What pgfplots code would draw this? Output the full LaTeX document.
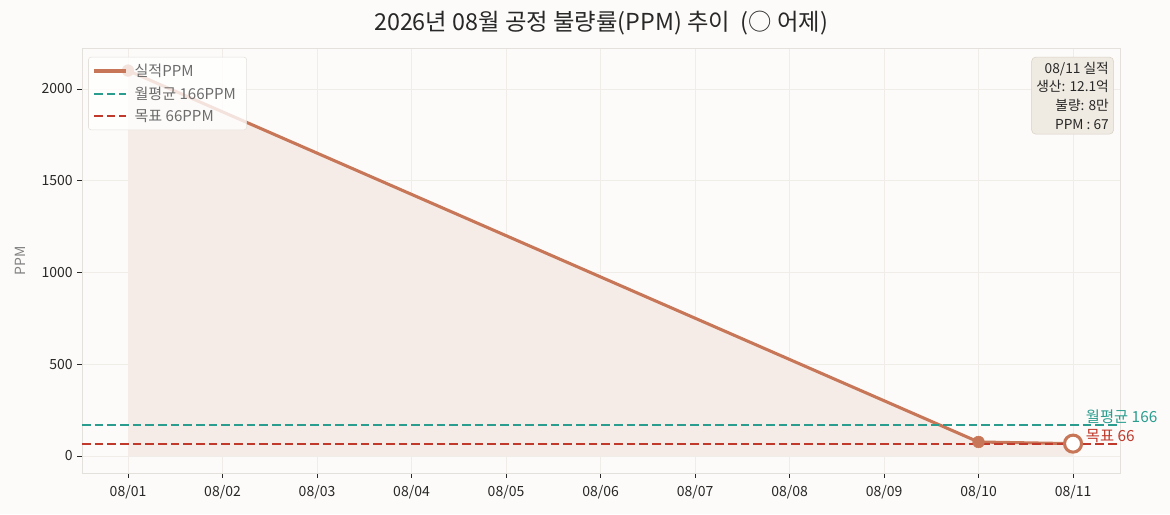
\documentclass[border=0pt]{standalone}
\usepackage{pgfplots}
\pgfplotsset{compat=1.18}
\usepackage{fontspec}
\setmainfont{Noto Sans CJK KR}
\definecolor{bgc}{RGB}{252,251,249}
\definecolor{linec}{RGB}{200,118,88}
\definecolor{fillc}{RGB}{246,236,231}
\definecolor{tealc}{RGB}{42,157,143}
\definecolor{redc}{RGB}{192,57,43}
\definecolor{gridc}{RGB}{240,237,233}
\definecolor{framec}{RGB}{228,224,219}
\definecolor{boxf}{RGB}{240,235,226}
\definecolor{boxd}{RGB}{216,208,196}
\definecolor{txtc}{RGB}{40,40,40}
\begin{document}
\begin{tikzpicture}
\path[fill=bgc] (0pt,0pt) rectangle (877.5pt,385.5pt);
\node[font=\fontsize{17.5}{20}\selectfont, text=txtc] at (450.75pt,368.5pt) {2026년 08월 공정 불량률(PPM) 추이\ \ (○ 어제)};
\begin{axis}[
  at={(61.5pt,30.75pt)}, anchor=south west,
  scale only axis, width=778.5pt, height=318.75pt,
  xmin=-0.487, xmax=10.497, ymin=-93, ymax=2223,
  xtick={0,1,2,3,4,5,6,7,8,9,10},
  xticklabels={08/01,08/02,08/03,08/04,08/05,08/06,08/07,08/08,08/09,08/10,08/11},
  ytick={0,500,1000,1500,2000},
  /pgf/number format/assume math mode=true,
  /pgf/number format/1000 sep={},
  tick label style={font=\fontsize{10.5}{12}\selectfont, text=txtc},
  xticklabel style={yshift=-2pt},
  grid=major, major grid style={gridc, line width=0.5pt},
  axis line style={framec, line width=0.6pt},
  tick style={txtc, line width=0.6pt},
  tick align=outside, major tick length=3.5pt,
  xtick pos=bottom, ytick pos=left,
  ylabel={PPM}, ylabel style={font=\fontsize{10.5}{12}\selectfont, text=gray, at={(axis description cs:-0.05,0.5)}},
  clip=false,
  legend cell align=left,
  legend style={at={(0.006,0.979)}, anchor=north west, fill=white, fill opacity=0.8, text opacity=1, draw=framec, rounded corners=2pt, font=\fontsize{11.3}{13}\selectfont, text=gray!85!black, row sep=2.2pt, inner xsep=3pt, inner ysep=3pt, nodes={inner xsep=5pt}},
]
\addplot[draw=none, fill=fillc, forget plot] coordinates {(0,2100) (9,76) (10,67) (10,0) (0,0)};
\addplot[color=linec, line width=2.3pt, line join=round, no marks, legend image code/.code={\draw[draw=linec, draw opacity=1, line width=2.4pt] (0cm,0cm) -- (0.85cm,0cm);}] coordinates {(0,2100) (9,76) (10,67)};
\addlegendentry{실적PPM}
\addplot[color=tealc, line width=1.5pt, dash pattern=on 6.5pt off 3pt, no marks, legend image code/.code={\draw[tealc, line width=1.5pt, dash pattern=on 6.5pt off 3pt] (0cm,0cm) -- (0.85cm,0cm);}] coordinates {(-0.487,166) (10.497,166)};
\addlegendentry{월평균 166PPM}
\addplot[color=redc, line width=1.5pt, dash pattern=on 6.5pt off 3pt, no marks, legend image code/.code={\draw[redc, line width=1.5pt, dash pattern=on 6.5pt off 3pt] (0cm,0cm) -- (0.85cm,0cm);}] coordinates {(-0.487,66) (10.497,66)};
\addlegendentry{목표 66PPM}
\addplot[only marks, mark=*, mark size=4.4pt, color=linec, mark options={solid, fill=linec, draw=linec}, forget plot] coordinates {(0,2100) (9,76)};
\addplot[only marks, mark=*, mark size=6.4pt, color=linec, mark options={solid, fill=white, draw=linec, line width=2.3pt}, forget plot] coordinates {(10,67)};
\node[anchor=south west, text=tealc, font=\fontsize{11.5}{13}\selectfont, inner sep=1pt] at (axis cs:10.12,166) {월평균 166};
\node[anchor=south west, text=redc, font=\fontsize{11.5}{13}\selectfont, inner sep=1pt] at (axis cs:10.12,66) {목표 66};
\node[anchor=north east, align=right, fill=boxf, draw=boxd, rounded corners=3pt, font=\fontsize{10.3}{14}\selectfont, text=txtc, inner sep=3.5pt] at (rel axis cs:0.994,0.979) {08/11 실적\\생산: 12.1억\\불량: 8만\\PPM : 67};
\end{axis}
\end{tikzpicture}
\end{document}
